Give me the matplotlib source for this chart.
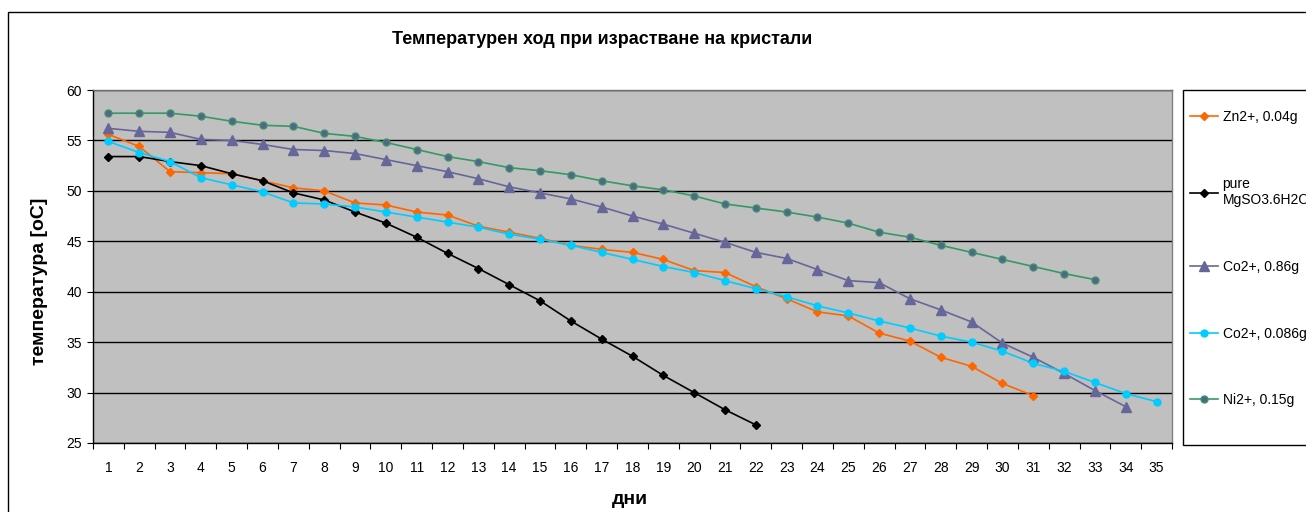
import matplotlib.pyplot as plt
from matplotlib.patches import Rectangle
from matplotlib.ticker import FixedLocator
import numpy as np

plt.rcParams['font.family'] = ['Liberation Sans', 'DejaVu Sans']

# data (temperature per day)
days = list(range(1, 36))

zn_004 = [55.6, 54.4, 51.9, 51.8, 51.7, 51.0, 50.3, 50.0, 48.8, 48.6,
          47.9, 47.6, 46.5, 45.9, 45.3, 44.6, 44.2, 43.9, 43.2, 42.1,
          41.9, 40.5, 39.3, 38.0, 37.6, 35.9, 35.1, 33.5, 32.6, 30.9,
          29.7]
pure_mg = [53.4, 53.4, 52.9, 52.5, 51.7, 51.0, 49.8, 49.1, 47.9, 46.8,
           45.4, 43.8, 42.3, 40.7, 39.1, 37.1, 35.3, 33.6, 31.7, 30.0,
           28.3, 26.8]
co_086 = [56.2, 55.9, 55.8, 55.1, 55.0, 54.6, 54.1, 54.0, 53.7, 53.1,
          52.5, 51.9, 51.2, 50.4, 49.8, 49.2, 48.4, 47.5, 46.7, 45.8,
          44.9, 43.9, 43.3, 42.2, 41.1, 40.9, 39.3, 38.2, 37.0, 34.9,
          33.5, 31.9, 30.2, 28.6]
co_0086 = [54.9, 53.8, 52.9, 51.3, 50.6, 49.9, 48.8, 48.7, 48.4, 47.9,
           47.4, 46.9, 46.4, 45.7, 45.2, 44.6, 43.9, 43.2, 42.5, 41.9,
           41.1, 40.3, 39.5, 38.6, 37.9, 37.1, 36.4, 35.6, 35.0, 34.1,
           32.9, 32.1, 31.0, 29.9, 29.1]
ni_015 = [57.7, 57.7, 57.7, 57.4, 56.9, 56.5, 56.4, 55.7, 55.4, 54.8,
          54.1, 53.4, 52.9, 52.3, 52.0, 51.6, 51.0, 50.5, 50.1, 49.5,
          48.7, 48.3, 47.9, 47.4, 46.8, 45.9, 45.4, 44.6, 43.9, 43.2,
          42.5, 41.8, 41.2]

W, H = 1306, 512
fig = plt.figure(figsize=(W / 100, H / 100), dpi=100)

# outer chart frame (cut off on the right and bottom)
fig.patches.append(Rectangle((8 / W, -0.1), 1.2, 1 - 12 / H + 0.1,
                             transform=fig.transFigure, fill=False,
                             edgecolor='black', linewidth=1.0, zorder=-2))
# legend box (also runs past the right edge)
fig.patches.append(Rectangle((1183 / W, 1 - 445 / H), 0.2, (445 - 90) / H,
                             transform=fig.transFigure, facecolor='white',
                             edgecolor='black', linewidth=1.0, zorder=-1))

ax = fig.add_axes([93 / W, 1 - 443 / H, (1172 - 93) / W, (443 - 90) / H])
ax.set_facecolor('#C0C0C0')

ax.plot(days[:len(zn_004)], zn_004, color='#FF6600', marker='D',
        markersize=4.5, linewidth=1.2, label='Zn2+, 0.04g')
ax.plot(days[:len(pure_mg)], pure_mg, color='black', marker='D',
        markersize=4.5, linewidth=1.2, label='pure\nMgSO3.6H2O')
ax.plot(days[:len(co_086)], co_086, color='#666699', marker='^',
        markersize=6.5, linewidth=1.2, label='Co2+, 0.86g')
ax.plot(days[:len(co_0086)], co_0086, color='#00CCFF', marker='o',
        markersize=5, linewidth=1.2, label='Co2+, 0.086g')
ax.plot(days[:len(ni_015)], ni_015, color='#339966', marker='o',
        markersize=5, markerfacecolor='#5F5F8F', markeredgecolor='#339966',
        linewidth=1.2, label='Ni2+, 0.15g')

ax.set_xlim(0.5, 35.5)
ax.set_ylim(25, 60)
ax.set_yticks(np.arange(25, 61, 5))
ax.yaxis.grid(True, color='black', linewidth=1.0)
ax.set_axisbelow(True)

# category style x axis: ticks between categories, labels at centres
ax.xaxis.set_major_locator(FixedLocator(np.arange(0.5, 36, 1)))
ax.xaxis.set_major_formatter(plt.NullFormatter())
ax.xaxis.set_minor_locator(FixedLocator(days))
ax.set_xticklabels([str(d) for d in days], minor=True)
ax.tick_params(axis='x', which='major', length=4, color='black', direction='out')
ax.tick_params(axis='x', which='minor', length=0, pad=13, labelsize=10)
ax.tick_params(axis='y', length=4, direction='out', labelsize=10, pad=4)

ax.spines['left'].set_color('black')
ax.spines['bottom'].set_color('black')
ax.spines['top'].set_color('#707070')
ax.spines['right'].set_color('#808080')
for s in ax.spines.values():
    s.set_linewidth(1.0)

fig.text(602 / W, 1 - 40 / H,
         'Температурен ход при израстване на кристали',
         ha='center', va='center', fontsize=13, fontweight='bold')
fig.text(40 / W, 1 - 281 / H, 'температура [oC]', rotation=90,
         ha='center', va='center', fontsize=14, fontweight='bold')
fig.text(630 / W, 1 - 500 / H, 'дни', ha='center', va='center',
         fontsize=14, fontweight='bold')

leg = ax.legend(loc='upper left', bbox_to_anchor=(1190 / W, 1 - 110 / H),
                bbox_transform=fig.transFigure, fontsize=10, frameon=False,
                handlelength=2.0, handletextpad=0.35,
                labelspacing=3.8, borderpad=0, borderaxespad=0)

fig.savefig('out.png', dpi=100)
